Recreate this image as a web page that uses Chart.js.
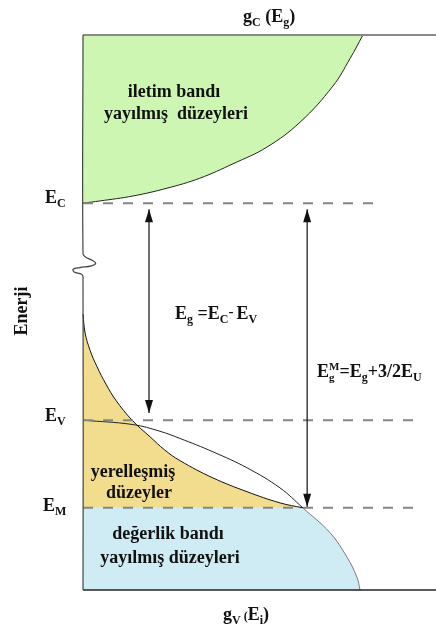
<!DOCTYPE html>
<html><head><meta charset="utf-8">
<script src="https://cdn.jsdelivr.net/npm/chart.js@4/dist/chart.umd.min.js"></script>
<style>html,body{margin:0;padding:0;background:#fff;}canvas{display:block}</style>
</head><body>
<canvas id="c" width="436" height="632"></canvas>
<script>
// Energy levels (energy units: 0 = bottom of plot, 100 = top)
const levelNames = ['E_C', 'E_V', 'E_M'];
const levelValues = [69.7, 30.6, 14.8];
const dashEnds = [83.6, 94.6, 94.6];

// Conduction band density of states g_C(E)
const condX = [0, 4.8, 14.2, 23.8, 33.1, 42.5, 52.1, 61.5, 70.8, 75.6, 79.3];
const condY = [69.7, 70.1, 71.0, 72.4, 74.2, 76.8, 79.8, 84.3, 90.8, 95.7, 100];

// Valence band (parabolic) density of states g_V(E)
const valX = [0, 14.2, 21.8, 27.5, 36.8, 46.5, 55.8, 62.3, 70.0, 74.8, 77.6, 78.5];
const valY = [30.6, 29.8, 28.6, 27.3, 24.9, 22.0, 18.4, 14.8, 10.3, 5.9, 2.3, 0];

// Localized (tail) states
const tailX = [0, 0.6, 2.0, 4.0, 6.5, 9.3, 13.9, 19.0, 23.2, 27.5, 36.8, 46.5, 55.8, 62.3];
const tailY = [49.7, 46.3, 43.2, 40.2, 37.1, 34.2, 30.6, 27.6, 25.2, 23.3, 20.2, 17.7, 15.7, 14.8];

// Energy axis with break
const axisX = [0, 0, 0.7, 2.6, 3.6, 2.4, -0.9, -2.8, -2.5, -0.4, 0, 0];
const axisY = [100, 60.6, 60.0, 59.4, 58.9, 58.4, 58.1, 57.8, 57.3, 56.9, 56.4, 0];

// Arrows (x position, top tip, bottom tip)
const arrowX = [18.7, 63.5];
const arrowTop = [68.6, 68.6];
const arrowBottom = [31.9, 15.0];

const pts = (xs, ys) => xs.map((x, i) => ({x, y: ys[i]}));
const EC = levelValues[0], EV = levelValues[1], EM = levelValues[2];
const iM = valY.indexOf(EM);

const GREEN = '#ccf6b1', YELLOW = '#f2dc8d', BLUE = '#cfecf4';
const datasets = [];

// fills
datasets.push({data: pts(condX, condY), fill: 'end', backgroundColor: GREEN, borderColor: '#222', borderWidth: 1, order: 20, tension: 0.4});
datasets.push({data: [{x: 0, y: EM}, {x: valX[iM], y: EM}], fill: 'start', backgroundColor: BLUE, borderColor: 'rgba(0,0,0,0)', borderWidth: 1, order: 21, tension: 0});
datasets.push({data: pts(valX.slice(iM), valY.slice(iM)), fill: 'start', backgroundColor: BLUE, borderColor: '#777', borderWidth: 1, order: 19, tension: 0.4});
datasets.push({data: pts(tailX, tailY), fill: {value: EM}, backgroundColor: YELLOW, borderColor: '#111', borderWidth: 1, order: 18, tension: 0.4});
datasets.push({data: pts(valX.slice(0, iM + 1), valY.slice(0, iM + 1)), fill: false, borderColor: '#222', borderWidth: 1, order: 5, tension: 0.4});

// dashed levels
levelValues.forEach((v, i) => {
  datasets.push({data: [{x: 0, y: v}, {x: dashEnds[i], y: v}], fill: false, borderColor: '#858585', borderWidth: 2, borderDash: [10, 10], order: 4, tension: 0});
});

// frame
datasets.push({data: [{x: 0, y: 100}, {x: 100, y: 100}], fill: false, borderColor: '#8a8a8a', borderWidth: 2, order: 3, tension: 0});
datasets.push({data: [{x: 0, y: 0}, {x: 100, y: 0}], fill: false, borderColor: '#222', borderWidth: 1.5, order: 3, tension: 0});
datasets.push({data: pts(axisX, axisY), fill: false, borderColor: '#444', borderWidth: 1.2, order: 2, tension: 0.4});

// arrows
arrowX.forEach((x, i) => {
  datasets.push({data: [{x, y: arrowTop[i]}, {x, y: arrowBottom[i]}], fill: false, borderColor: '#111', borderWidth: 1.2, order: 1, tension: 0});
});

const FONT = "'Liberation Serif', 'Times New Roman', serif";
function rich(ctx, x, y, parts) {
  let cx = x;
  for (const p of parts) {
    if (p.stack) {
      ctx.font = `bold ${p.size}px ${FONT}`;
      ctx.fillText(p.sup, cx, y - p.up);
      ctx.fillText(p.sub, cx, y + p.down);
      cx += Math.max(ctx.measureText(p.sup).width, ctx.measureText(p.sub).width);
      continue;
    }
    const [t, s, dy] = p;
    ctx.font = `bold ${s}px ${FONT}`;
    ctx.fillText(t, cx, y + (dy || 0));
    cx += ctx.measureText(t).width;
  }
}

const decor = {
  id: 'decor',
  afterDatasetsDraw(chart) {
    const ctx = chart.ctx, xs = chart.scales.x, ys = chart.scales.y;
    ctx.save();
    // arrowheads
    ctx.fillStyle = '#111';
    arrowX.forEach((x, i) => {
      const px = xs.getPixelForValue(x);
      const t = ys.getPixelForValue(arrowTop[i]);
      const b = ys.getPixelForValue(arrowBottom[i]);
      ctx.beginPath(); ctx.moveTo(px, t); ctx.lineTo(px - 4, t + 13); ctx.lineTo(px + 4, t + 13); ctx.closePath(); ctx.fill();
      ctx.beginPath(); ctx.moveTo(px, b); ctx.lineTo(px - 4, b - 13); ctx.lineTo(px + 4, b - 13); ctx.closePath(); ctx.fill();
    });
    // texts
    ctx.fillStyle = '#111';
    ctx.textBaseline = 'alphabetic';
    ctx.textAlign = 'left';
    const B = 18, S = 12;
    rich(ctx, 243, 22, [['g', B], ['C', S, 4], [' (', B], ['E', B], ['g', S, 4], [')', B]]);
    rich(ctx, 223, 620, [['g', B], ['V', S, 4], [' (', S], ['E', B], ['i', S, 4], [')', B]]);
    const labY = levelValues.map(v => ys.getPixelForValue(v));
    rich(ctx, 45, labY[0] + 0, [['E', B], ['C', S, 4]]);
    rich(ctx, 45, labY[1] + 1, [['E', B], ['V', S, 4]]);
    rich(ctx, 43, labY[2] + 3, [['E', B], ['M', S, 4]]);
    rich(ctx, 175, 319, [['E', B], ['g', S, 4], [' =', B], ['E', B], ['C', S, 4], ['-', 15, -3], [' ', S], ['E', B], ['V', S, 4]]);
    rich(ctx, 317, 377, [['E', B], {stack: true, sup: 'M', sub: 'g', size: 11, up: 7, down: 4}, ['=', B], ['E', B], ['g', S, 4], ['+3/2E', B], ['U', S, 4]]);

    ctx.textAlign = 'center';
    ctx.font = `bold ${B}px ${FONT}`;
    ctx.fillText('iletim bandı', 174, 97);
    ctx.fillText('yayılmış  düzeyleri', 176, 119);
    ctx.fillText('yerelleşmiş', 133, 477);
    ctx.fillText('düzeyler', 139, 498);
    ctx.fillText('değerlik bandı', 168, 539);
    ctx.fillText('yayılmış düzeyleri', 170, 563);

    ctx.translate(27, 311);
    ctx.rotate(-Math.PI / 2);
    ctx.fillText('Enerji', 0, 0);
    ctx.restore();
  }
};

new Chart(document.getElementById('c'), {
  type: 'line',
  data: {datasets},
  options: {
    responsive: false,
    animation: false,
    devicePixelRatio: 1,
    layout: {padding: {left: 83, right: 0, top: 35, bottom: 42}},
    scales: {
      x: {type: 'linear', min: 0, max: 100, display: false},
      y: {type: 'linear', min: 0, max: 100, display: false}
    },
    elements: {point: {radius: 0, hoverRadius: 0}, line: {capBezierPoints: false}},
    datasets: {line: {clip: false}},
    plugins: {legend: {display: false}, tooltip: {enabled: false}},
    events: []
  },
  plugins: [decor]
});
</script>
</body></html>
